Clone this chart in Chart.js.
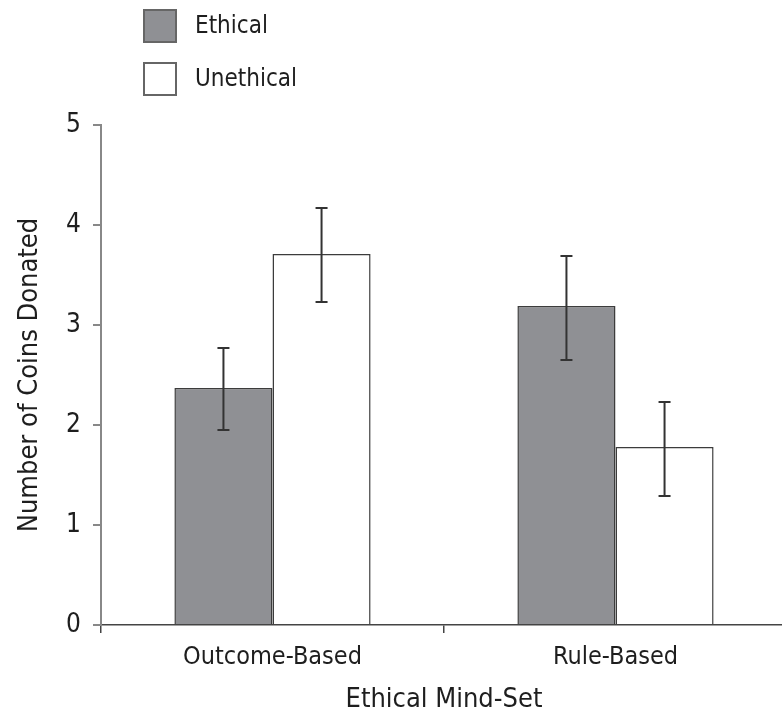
<!DOCTYPE html>
<html><head><meta charset="utf-8">
<script src="https://cdn.jsdelivr.net/npm/chart.js@4"></script>
<style>html,body{margin:0;padding:0;overflow:hidden;background:#fff}canvas{display:block}</style>
</head><body>
<canvas id="c" width="787" height="716" style="width:787px;height:716px"></canvas>
<script>
const categories = ['Outcome-Based', 'Rule-Based'];
const seriesNames = ['Ethical', 'Unethical'];
const ethicalMeans = [2.37, 3.19];
const unethicalMeans = [3.71, 1.78];
const ethicalErrLow = [1.95, 2.65];
const ethicalErrHigh = [2.77, 3.69];
const unethicalErrLow = [3.23, 1.29];
const unethicalErrHigh = [4.17, 2.23];
const yTickValues = [0, 1, 2, 3, 4, 5];
const xTitle = 'Ethical Mind-Set';
const yTitle = 'Number of Coins Donated';

const FONT = "'Liberation Sans Narrow', 'DejaVu Sans Condensed', 'Liberation Sans', sans-serif";
const errLow = [ethicalErrLow, unethicalErrLow];
const errHigh = [ethicalErrHigh, unethicalErrHigh];

const errorBars = {
  id: 'errorBars',
  afterDatasetsDraw(chart) {
    const ctx = chart.ctx, y = chart.scales.y;
    ctx.save();
    ctx.strokeStyle = '#333';
    ctx.lineWidth = 2;
    chart.data.datasets.forEach((ds, i) => {
      const meta = chart.getDatasetMeta(i);
      meta.data.forEach((bar, j) => {
        const x = bar.x;
        const y1 = y.getPixelForValue(errLow[i][j]);
        const y2 = y.getPixelForValue(errHigh[i][j]);
        ctx.beginPath();
        ctx.moveTo(x, y1); ctx.lineTo(x, y2);
        ctx.moveTo(x - 6, y1); ctx.lineTo(x + 6, y1);
        ctx.moveTo(x - 6, y2); ctx.lineTo(x + 6, y2);
        ctx.stroke();
      });
    });
    ctx.restore();
  }
};

const legendPlugin = {
  id: 'customLegend',
  afterDraw(chart) {
    const ctx = chart.ctx;
    ctx.save();
    chart.data.datasets.forEach((ds, i) => {
      const bx = 144, by = 10 + i * 53, s = 32;
      ctx.fillStyle = ds.backgroundColor;
      ctx.strokeStyle = '#666';
      ctx.lineWidth = 2;
      ctx.beginPath();
      ctx.rect(bx, by, s, s);
      ctx.fill(); ctx.stroke();
      ctx.fillStyle = '#1e1e1e';
      ctx.font = '24px ' + FONT;
      ctx.textBaseline = 'middle';
      ctx.textAlign = 'left';
      ctx.fillText(ds.label, 195, by + s / 2 + 1);
    });
    ctx.restore();
  }
};

new Chart(document.getElementById('c'), {
  type: 'bar',
  data: {
    labels: categories,
    datasets: [
      { label: seriesNames[0], data: ethicalMeans, backgroundColor: '#8f9094', borderColor: '#3c3c3c', borderWidth: 1.5 },
      { label: seriesNames[1], data: unethicalMeans, backgroundColor: '#ffffff', borderColor: '#3c3c3c', borderWidth: 1.5 }
    ]
  },
  options: {
    responsive: false,
    animation: false,
    devicePixelRatio: 1,
    layout: { padding: { top: 125, left: 0, right: 0, bottom: 0 } },
    plugins: { legend: { display: false }, tooltip: { enabled: false } },
    datasets: { bar: { barPercentage: 1, categoryPercentage: 0.572 } },
    scales: {
      x: {
        grid: { offset: true, drawOnChartArea: false, tickLength: 8, tickColor: '#444', lineWidth: 1.5 },
        border: { color: '#444', width: 1.5 },
        ticks: { color: '#1e1e1e', font: { family: FONT, size: 25 }, padding: 9 },
        title: { display: true, text: xTitle, color: '#1e1e1e', font: { family: FONT, size: 27 }, padding: { top: 0, bottom: 0 } },
        afterFit(s) { s.height = 91; }
      },
      y: {
        min: 0, max: 5,
        afterBuildTicks(s) { s.ticks = yTickValues.map(v => ({ value: v })); },
        grid: { drawOnChartArea: false, tickLength: 8, tickColor: '#888', lineWidth: 2 },
        border: { color: '#888', width: 2 },
        ticks: { color: '#1e1e1e', font: { family: FONT, size: 26 }, padding: 12 },
        title: { display: true, text: yTitle, color: '#1e1e1e', font: { family: FONT, size: 27 }, padding: { top: 14, bottom: 0 } },
        afterFit(s) { s.width = 101; }
      }
    }
  },
  plugins: [errorBars, legendPlugin]
});
</script>
</body></html>
